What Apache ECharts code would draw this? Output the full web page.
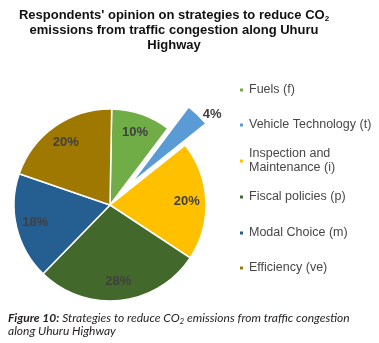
<!DOCTYPE html>
<html>
<head>
<meta charset="utf-8">
<script src="https://cdn.jsdelivr.net/npm/echarts@6/dist/echarts.min.js"></script>
<style>
  html, body { margin: 0; padding: 0; background: #fff; }
  #chart { width: 379px; height: 343px; }
</style>
</head>
<body>
<div id="chart"></div>
<script>
// strategies and share of respondents (%)
const categories = ['Fuels (f)', 'Vehicle Technology (t)', 'Inspection and Maintenance (i)', 'Fiscal policies (p)', 'Modal Choice (m)', 'Efficiency (ve)']
const legendLabels = ['Fuels (f)', 'Vehicle Technology (t)', 'Inspection and\nMaintenance (i)', 'Fiscal policies (p)', 'Modal Choice (m)', 'Efficiency (ve)']
const values = [10, 4, 20, 28, 18, 20]
const colors = ['#70ad47', '#5b9bd5', '#ffc000', '#43682b', '#255e91', '#9e7800']
const exploded = 'Vehicle Technology (t)'

// legend rows sit at fixed heights like the original figure
const legendTops = [83, 118, 140, 190, 226, 261]
const CX = 110, CY = 205, R = 96

const chart = echarts.init(document.getElementById('chart'), null, { renderer: 'canvas' })

chart.setOption({
  animation: false,
  title: [
    {
      text: "Respondents' opinion on strategies to reduce CO{sub|2}\nemissions from traffic congestion along Uhuru\nHighway",
      left: 169,
      top: 3,
      textAlign: 'center',
      textStyle: {
        fontFamily: 'Liberation Sans',
        fontSize: 13,
        fontWeight: 'bold',
        color: '#111',
        lineHeight: 15,
        rich: { sub: { fontSize: 8, fontWeight: 'bold', fontFamily: 'Liberation Sans', color: '#111', padding: [6, 0, 0, 0] } },
      },
    },
    {
      text: '{b|Figure 10:} Strategies to reduce CO{sub|2} emissions from traffic congestion\nalong Uhuru Highway',
      left: 8,
      top: 312,
      padding: 0,
      textStyle: {
        fontFamily: 'Lato',
        fontStyle: 'italic',
        fontWeight: 'normal',
        fontSize: 12,
        color: '#231f20',
        lineHeight: 13,
        rich: {
          b: { fontFamily: 'Lato', fontStyle: 'italic', fontWeight: 'bold', fontSize: 12, color: '#231f20' },
          sub: { fontFamily: 'Lato', fontStyle: 'italic', fontWeight: 'normal', fontSize: 8, color: '#231f20', padding: [5, 0, 0, 0] },
        },
      },
    },
  ],
  legend: categories.map((name, i) => ({
    data: [name],
    orient: 'vertical',
    left: 238,
    top: legendTops[i],
    padding: 0,
    icon: 'rect',
    itemWidth: 5,
    itemHeight: 5,
    selectedMode: false,
    formatter: () => legendLabels[i],
    textStyle: {
      fontFamily: 'Liberation Sans',
      fontSize: 12.5,
      color: '#474747',
      lineHeight: 14,
      padding: legendLabels[i].includes('\n') ? [14, 0, 0, 0] : 0,
    },
  })),
  series: [
    {
      type: 'pie',
      center: [CX, CY],
      radius: [0, R],
      startAngle: 89,
      selectedMode: 'single',
      selectedOffset: 30,
      avoidLabelOverlap: false,
      itemStyle: { borderColor: '#fff', borderWidth: 1.5 },
      label: { show: false },
      labelLine: { show: false, length: 0, length2: 0 },
      data: categories.map((name, i) => ({
        name,
        value: values[i],
        selected: name === exploded,
        itemStyle: { color: colors[i] },
        label: name === exploded ? {
          show: true,
          position: 'outside',
          formatter: '{d}%',
          fontFamily: 'Liberation Sans',
          fontSize: 13,
          fontWeight: 'bold',
          color: '#404040',
        } : { show: false },
      })),
    },
    {
      // label ring: places percentages at ~0.78 of the radius
      type: 'pie',
      center: [CX, CY],
      radius: [R * 0.54, R],
      startAngle: 89,
      silent: true,
      itemStyle: { color: 'rgba(0,0,0,0)' },
      label: {
        position: 'inside',
        formatter: '{d}%',
        fontFamily: 'Liberation Sans',
        fontSize: 13,
        fontWeight: 'bold',
        color: '#404040',
      },
      labelLine: { show: false },
      data: categories.map((name, i) => ({
        name,
        value: values[i],
        itemStyle: { color: 'rgba(0,0,0,0)' },
        label: { show: name !== exploded },
      })),
    },
  ],
})
</script>
</body>
</html>
